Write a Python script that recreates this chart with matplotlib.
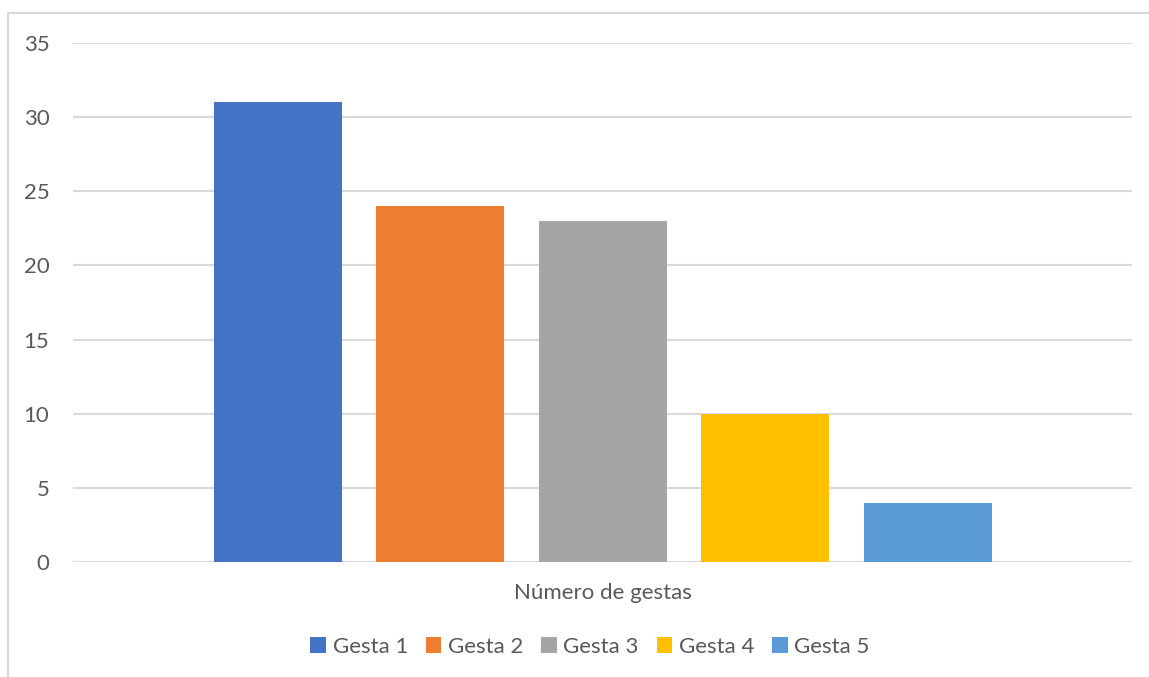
import matplotlib.pyplot as plt
from matplotlib.patches import Rectangle

plt.rcParams['font.family'] = ['Lato', 'DejaVu Sans']

# ================= DATA =================
category = "Número de gestas"
series = ["Gesta 1", "Gesta 2", "Gesta 3", "Gesta 4", "Gesta 5"]
values = [31, 24, 23, 10, 4]
colors = ["#4472C4", "#ED7D31", "#A5A5A5", "#FFC000", "#5B9BD5"]
yticks = [0, 5, 10, 15, 20, 25, 30, 35]

text_color = "#595959"
grid_color = "#D9D9D9"

# ================= FIGURE =================
fig = plt.figure(figsize=(11.49, 6.77), dpi=100)
ax = fig.add_axes([73 / 1149, 115 / 677, 1059 / 1149, 519 / 677])

# chart frame
fig.patches.append(Rectangle((8 / 1149, -0.05), 1.2, (677 - 13) / 677 + 0.05,
                             transform=fig.transFigure, fill=False,
                             edgecolor=grid_color, lw=1.5))

# bar layout (one category, five clustered series)
width = 128 / 1059
step = 162.5 / 1059
n = len(values)
for i, (s, v, c) in enumerate(zip(series, values, colors)):
    x = (i - (n - 1) / 2) * step
    ax.bar(x, v, width=width, color=c, label=s, zorder=3)

ax.set_xlim(-0.5, 0.5)
ax.set_ylim(0, 35)
ax.set_yticks(yticks)
ax.set_xticks([0])
ax.set_xticklabels([category])

ax.yaxis.grid(True, color=grid_color, lw=1.5, zorder=0)
for sp in ax.spines.values():
    sp.set_visible(False)
ax.tick_params(axis='y', length=0, pad=17, labelsize=16, labelcolor=text_color)
ax.tick_params(axis='x', length=0, pad=15, labelsize=16, labelcolor=text_color)
ax.axhline(0, color=grid_color, lw=1.5, zorder=2)

fig.legend(loc='center', bbox_to_anchor=(590 / 1149, 30 / 677), ncol=5,
           frameon=False, fontsize=16, labelcolor=text_color,
           handlelength=0.7, handleheight=0.7, handletextpad=0.3,
           columnspacing=0.8)

fig.savefig("out.png", dpi=100)
